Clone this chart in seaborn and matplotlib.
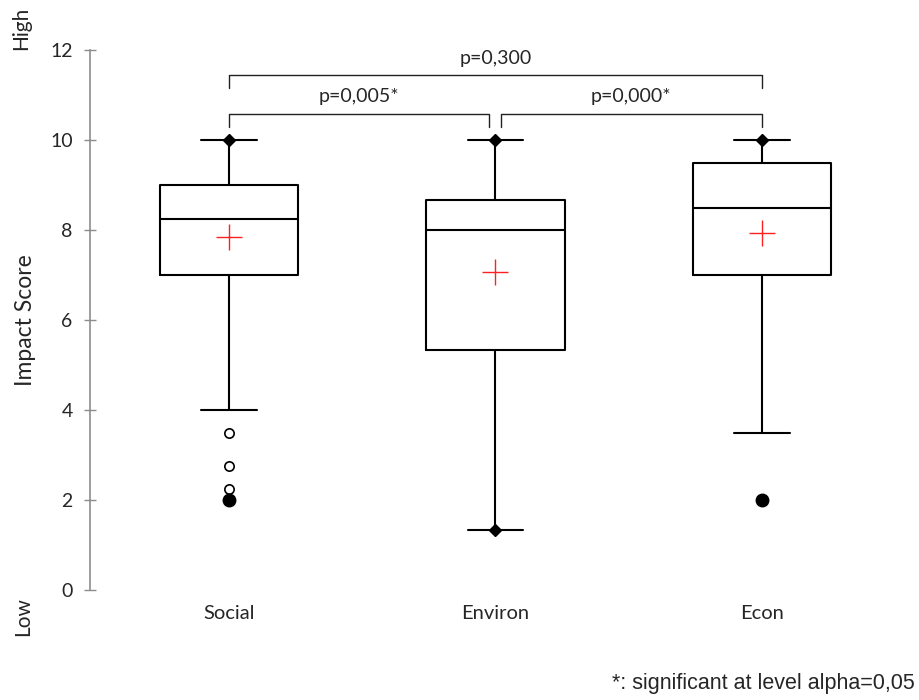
import matplotlib
matplotlib.use("Agg")
import matplotlib.pyplot as plt
import seaborn as sns
import pandas as pd

# Summary statistics per dimension
categories = ["Social", "Environ", "Econ"]
q1 = [7.0, 5.33, 7.0]
medians = [8.25, 8.0, 8.5]
q3 = [9.0, 8.67, 9.5]
means = [7.84, 7.07, 7.93]
whisker_low = [4.0, 1.33, 3.5]
whisker_high = [10.0, 10.0, 10.0]
minimums = [2.0, 1.33, 2.0]
maximums = [10.0, 10.0, 10.0]
outliers = [[3.5, 2.75, 2.25], [], []]

# Pairwise comparisons: (left group, right group, label)
pair_left = [0, 0, 1]
pair_right = [2, 1, 2]
pair_labels = ["p=0,300", "p=0,005*", "p=0,000*"]

y_ticks = [0, 2, 4, 6, 8, 10, 12]

sns.set_style("white")
plt.rcParams["font.family"] = ["Lato", "DejaVu Sans"]

fig = plt.figure(figsize=(9.19, 7.0), dpi=100)
ax = fig.add_axes([90 / 919, 1 - 590 / 700, 811 / 919, 540 / 700])

positions = list(range(len(categories)))
stats = []
for i, name in enumerate(categories):
    stats.append(dict(label=name, med=medians[i], q1=q1[i], q3=q3[i],
                      whislo=whisker_low[i], whishi=whisker_high[i],
                      fliers=[], mean=means[i]))

line_kw = dict(color="black", linewidth=1.5)
ax.bxp(stats, positions=positions, widths=0.52, showfliers=False,
       showmeans=False, boxprops=line_kw, medianprops=line_kw,
       whiskerprops=line_kw, capprops=line_kw, capwidths=0.21)

# Means as red crosses
mean_df = pd.DataFrame({"x": positions, "mean": means})
sns.scatterplot(data=mean_df, x="x", y="mean", marker="+", s=330,
                color="#ff2020", linewidth=1.0, ax=ax, zorder=4)

# Outliers as open circles
out_x, out_y = [], []
for i, vals in enumerate(outliers):
    out_x += [i] * len(vals)
    out_y += vals
out_df = pd.DataFrame({"x": out_x, "y": out_y})
sns.scatterplot(data=out_df, x="x", y="y", marker="o", s=45,
                facecolor="white", edgecolor="black", linewidth=1.2,
                ax=ax, zorder=4)

# Minimum / maximum: diamond on a whisker end, filled circle beyond it
for i in positions:
    for v, w in ((minimums[i], whisker_low[i]), (maximums[i], whisker_high[i])):
        if abs(v - w) < 1e-9:
            ax.plot(i, v, marker="D", markersize=6.5, color="black", zorder=5)
        else:
            ax.plot(i, v, marker="o", markersize=9, color="black", zorder=5)

# Significance brackets
bracket_levels = [11.44, 10.58, 10.58]
for k, (a, b, lab) in enumerate(zip(pair_left, pair_right, pair_labels)):
    yl = bracket_levels[k]
    xa, xb = a, b
    if k == 1:
        xb = b - 0.025
    if k == 2:
        xa = a + 0.02
    ax.plot([xa, xa, xb, xb], [yl - 0.29, yl, yl, yl - 0.29],
            color="#222222", linewidth=1.0, clip_on=False)
    ax.text((xa + xb) / 2, yl + 0.38, lab, ha="center", va="center",
            fontsize=14)

ax.set_xlim(-0.523, 2.523)
ax.set_ylim(0, 12)
ax.set_yticks(y_ticks)
ax.set_yticklabels([str(t) for t in y_ticks], fontsize=14)
ax.set_xticks(positions)
ax.set_xticklabels(categories, fontsize=14.5)
ax.set_xlabel("")

for side in ("top", "right", "bottom"):
    ax.spines[side].set_visible(False)
ax.spines["left"].set_color("#8c8c8c")
ax.spines["left"].set_linewidth(1.2)
ax.tick_params(axis="y", direction="inout", length=9, width=1.0,
               color="#8c8c8c", pad=8, left=True)
ax.tick_params(axis="x", length=0, pad=11)

ax.set_ylabel("Impact Score", fontsize=16.5)
ax.yaxis.set_label_coords(-0.067, 0.5)
ax.text(-0.085, 1.04, "High", transform=ax.transAxes, rotation=90,
        ha="center", va="center", fontsize=15)
ax.text(-0.082, -0.05, "Low", transform=ax.transAxes, rotation=90,
        ha="center", va="center", fontsize=15)

fig.text(915 / 919, 1 - 683 / 700, "*: significant at level alpha=0,05",
         ha="right", va="center", fontsize=15.5, family=["Liberation Sans"])

fig.savefig("out.png", dpi=100)
